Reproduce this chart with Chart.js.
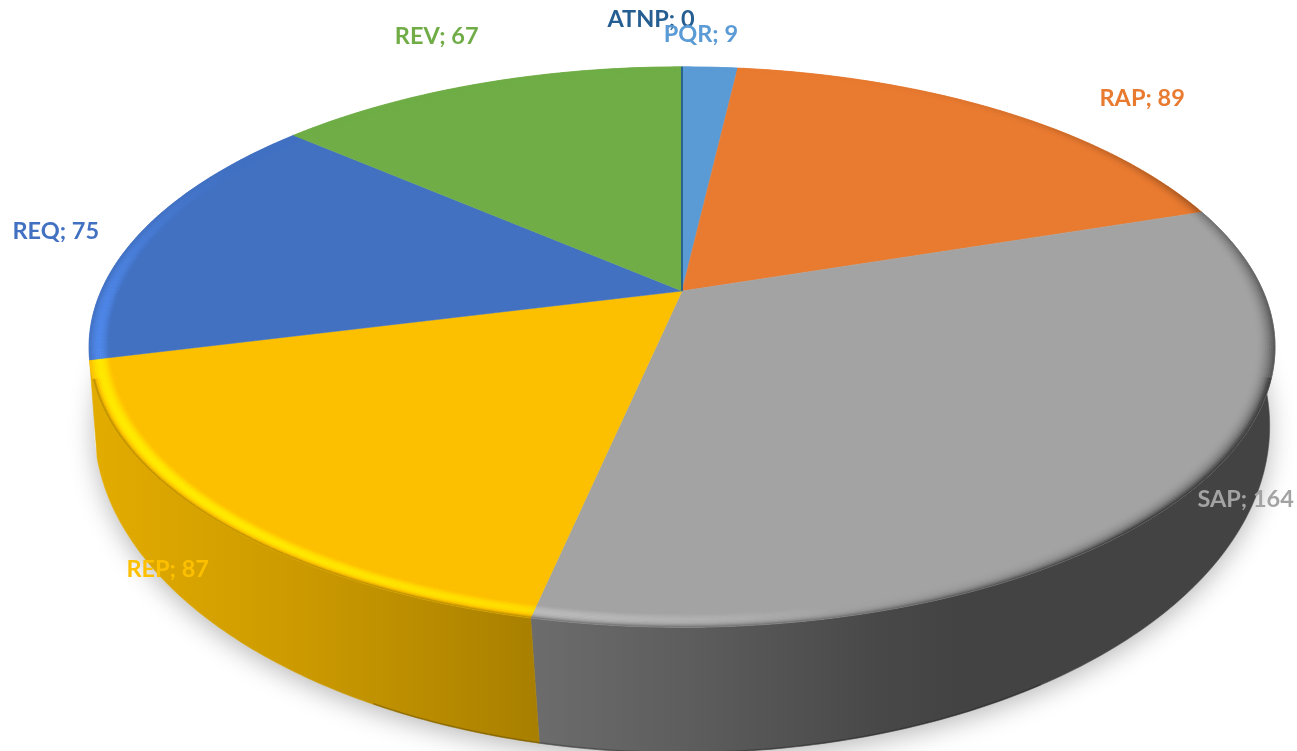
<!DOCTYPE html>
<html><head><meta charset="utf-8">
<style>html,body{margin:0;padding:0;background:#fff;overflow:hidden}canvas{display:block}</style>
<script src="https://cdn.jsdelivr.net/npm/chart.js@4"></script>
</head><body><canvas id="c" width="1297" height="751"></canvas>
<script>
const categories = ['ATNP','PQR','RAP','SAP','REP','REQ','REV'];
const seriesValues = [0,9,89,164,87,75,67];
const sliceColors = ['#255E91','#5B9BD5','#E97B31','#A3A3A3','#FCC000','#4271C2','#70AD47'];
const labelShift = [[-31,-47],[-9,-33],[142,-12],[65,1],[-43,52],[-86,0],[-41,-48]];
const wallStops = [null,null,null,
  [[536,'#6c6c6c'],[700,'#5c5c5c'],[880,'#484848'],[960,'#434343'],[1280,'#434343']],
  [[90,'#E3AC00'],[300,'#CC9A00'],[536,'#A87F00']],null,null];

// oblique view of the chart's circular pie (perspective projection of the unit disc)
const topView = {cx:682, cy:291, a:581, s:269, p:0.2};
const baseView = {cx:682, cy:377, a:581, s:319.6, p:0.15};
function project(v, ang, r){
  const u = r*Math.cos(ang), w = r*Math.sin(ang), k = 1 - v.p*w;
  return [v.cx + v.a*u/k, v.cy + v.s*w/k];
}
function rgb(hex){const n=parseInt(hex.slice(1),16);return [n>>16,(n>>8)&255,n&255];}
function shade(c,m){return `rgb(${c.map(x=>Math.min(255,Math.round(x*(1+m)))).join(',')})`;}
function bevelAmount(ang,t){
  const sn = Math.sin(ang);
  let l = -Math.cos(ang+0.21)*(0.5+0.5*sn);
  if(l>0 && sn<0) l *= Math.max(0,1+2*sn);
  let m = l>0 ? 0.30*Math.pow(l,0.7)*Math.sin(Math.PI*t) : 0.9*l*t*t;
  if(sn>0.3) m -= 0.35*Math.pow(t,6);
  return Math.max(m,-0.6);
}
const pie3d = {
  id:'pie3d',
  beforeDatasetsDraw(chart){
    const ctx = chart.ctx, arcs = chart.getDatasetMeta(0).data, step = Math.PI/240;
    const trace = (view,a0,a1,r,first)=>{
      const n = Math.max(1,Math.ceil(Math.abs(a1-a0)/step));
      for(let i=0;i<=n;i++){
        const p = project(view,a0+(a1-a0)*i/n,r);
        (first&&i===0)?ctx.moveTo(p[0],p[1]):ctx.lineTo(p[0],p[1]);
      }
    };
    // soft ground shadow
    ctx.save();
    ctx.shadowColor='rgba(0,0,0,0.28)';ctx.shadowBlur=26;ctx.shadowOffsetX=0;ctx.shadowOffsetY=6;
    ctx.fillStyle='#fff';ctx.beginPath();
    trace(baseView,0,Math.PI*2,1,true);ctx.closePath();ctx.fill();
    ctx.restore();
    // side walls of the slices that face the viewer
    arcs.forEach((el,i)=>{
      const st = wallStops[i];
      if(!st || el.endAngle-el.startAngle<=0) return;
      const x0=st[0][0],x1=st[st.length-1][0],g=ctx.createLinearGradient(x0,0,x1,0);
      st.forEach(s=>g.addColorStop((s[0]-x0)/(x1-x0),s[1]));
      ctx.fillStyle=g;ctx.strokeStyle=g;ctx.lineWidth=0.6;
      ctx.beginPath();
      trace(topView,el.startAngle,el.endAngle,1,true);
      trace(baseView,el.endAngle,el.startAngle,1,false);
      ctx.closePath();ctx.fill();ctx.stroke();
    });
    // darker lip along the floor edge of the wall
    ctx.save();ctx.strokeStyle='rgba(0,0,0,0.22)';ctx.lineWidth=1.6;ctx.beginPath();
    trace(baseView,1.0,2.05,0.999,true);ctx.stroke();ctx.restore();
    // top faces
    arcs.forEach((el,i)=>{
      if(el.endAngle-el.startAngle<=0) return;
      ctx.fillStyle=sliceColors[i];ctx.strokeStyle=sliceColors[i];ctx.lineWidth=0.5;
      ctx.beginPath();
      const c=project(topView,0,0);ctx.moveTo(c[0],c[1]);
      trace(topView,el.startAngle,el.endAngle,1,false);
      ctx.closePath();ctx.fill();ctx.stroke();
    });
    // bevel around the rim
    const rings=10,band=0.032;
    arcs.forEach((el,i)=>{
      const span=el.endAngle-el.startAngle;
      if(span<=0) return;
      const base=rgb(sliceColors[i]),n=Math.ceil(span/step);
      for(let k=0;k<n;k++){
        const a0=el.startAngle+span*k/n,a1=el.startAngle+span*(k+1)/n,am=(a0+a1)/2;
        for(let j=0;j<rings;j++){
          const r0=1-band+band*j/rings,r1=1-band+band*(j+1)/rings;
          const col=shade(base,bevelAmount(am,(j+0.5)/rings));
          const A=project(topView,a0,r0),B=project(topView,a1,r0),C=project(topView,a1,r1),D=project(topView,a0,r1);
          ctx.fillStyle=col;ctx.strokeStyle=col;ctx.lineWidth=0.4;
          ctx.beginPath();ctx.moveTo(A[0],A[1]);ctx.lineTo(B[0],B[1]);ctx.lineTo(C[0],C[1]);ctx.lineTo(D[0],D[1]);ctx.closePath();ctx.fill();ctx.stroke();
        }
      }
    });
    // zero-size slices still show as a hairline
    arcs.forEach((el,i)=>{
      if(el.endAngle-el.startAngle>0) return;
      const c=project(topView,0,0),e=project(topView,el.startAngle,1);
      ctx.strokeStyle=sliceColors[i];ctx.lineWidth=1.8;ctx.beginPath();ctx.moveTo(c[0],c[1]);ctx.lineTo(e[0],e[1]);ctx.stroke();
    });
    // data labels
    ctx.font='bold 23.5px Lato, Carlito, sans-serif';ctx.textAlign='center';ctx.textBaseline='middle';
    arcs.forEach((el,i)=>{
      const p=project(topView,(el.startAngle+el.endAngle)/2,1);
      ctx.fillStyle=sliceColors[i];
      ctx.fillText(categories[i]+'; '+seriesValues[i],p[0]+labelShift[i][0],p[1]+labelShift[i][1]);
    });
    return false;
  }
};
new Chart(document.getElementById('c'),{
  type:'pie',
  data:{labels:categories,datasets:[{data:seriesValues,backgroundColor:sliceColors,borderWidth:0}]},
  options:{responsive:false,animation:false,
    plugins:{legend:{display:false},tooltip:{enabled:false},title:{display:false}}},
  plugins:[pie3d]
});
</script></body></html>
